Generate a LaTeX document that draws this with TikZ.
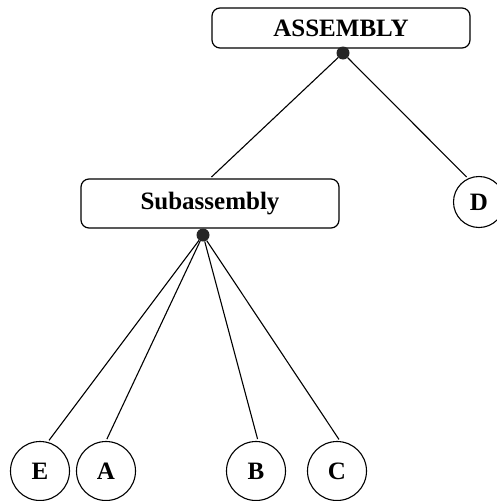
\documentclass[tikz,border=0pt]{standalone}
\usepackage{fontspec}
\setmainfont{Liberation Serif}
\begin{document}
\begin{tikzpicture}[x=1pt,y=-1pt,
  lbl/.style={font=\fontsize{25}{30}\selectfont\bfseries},
  part/.style={draw, line width=1.2pt, rounded corners=8pt, minimum width=258pt, inner sep=0pt, lbl},
  leaf/.style={draw, line width=1.1pt, circle, minimum size=59pt, inner sep=0pt, lbl},
  joint/.style={circle, fill=black!85, minimum size=13pt, inner sep=0pt},
  link/.style={line width=1.1pt, shorten >=2pt}]
\useasboundingbox (0,0) rectangle (497,501);
% assembly tree
\node[part, minimum height=40pt] (asm) at (341,28) {ASSEMBLY};
\node[part, minimum height=49pt] (sub) at (210,203.5) {Subassembly};
\node[joint] (adot) at (343,53) {};
\node[joint] (sdot) at (203,235) {};
\node[leaf, minimum size=51pt] (D) at (479,202) {D};
\node[leaf] (E) at (40,471) {E};
\node[leaf] (A) at (106,471) {A};
\node[leaf] (B) at (256,471) {B};
\node[leaf] (C) at (337,471) {C};
% connectors
\draw[link] (adot) -- (sub.north);
\draw[link] (adot) -- (D.115);
\draw[link] (sdot) -- (E.75);
\draw[link] (sdot) -- (A.north);
\draw[link] (sdot) -- (B.86);
\draw[link] (sdot) -- (C.84);
\end{tikzpicture}
\end{document}
